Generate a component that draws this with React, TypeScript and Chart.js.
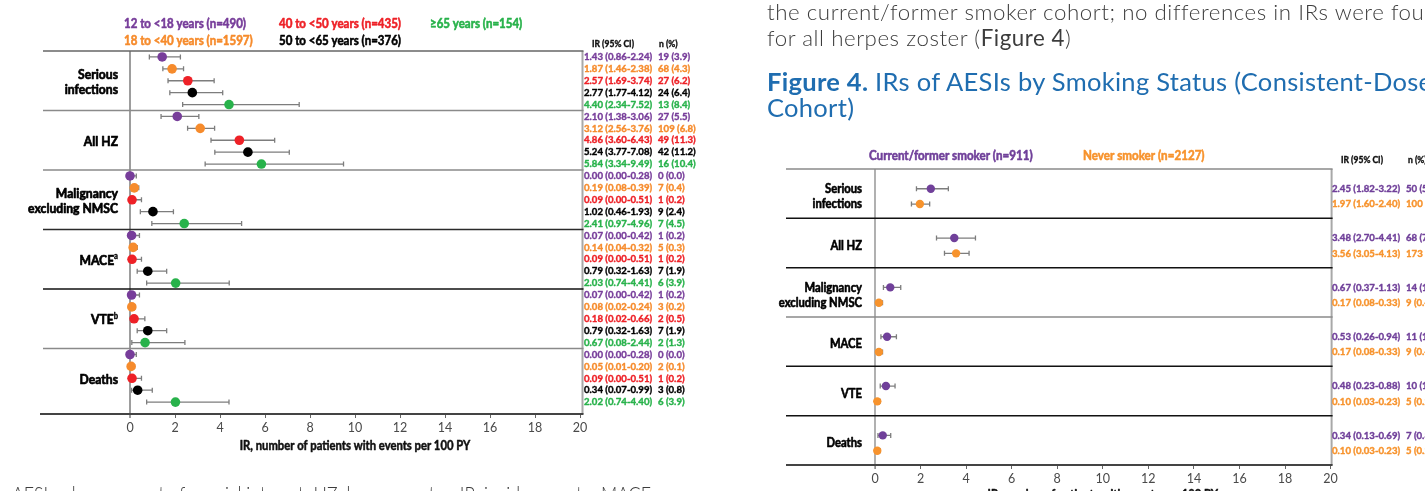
import React, { useEffect, useRef } from 'react';
import { Chart, registerables } from 'chart.js';
Chart.register(...registerables);

const FONT = 'Lato, "Noto Sans", sans-serif';

// ---------- Left chart (by age group) ----------
const leftCategoryLines = [['Serious', 'infections'], ['All HZ'], ['Malignancy', 'excluding NMSC'], ['MACE'], ['VTE'], ['Deaths']];
const leftCategorySup = ['', '', '', 'a', 'b', ''];

const ageLabels = ['12 to <18 years (n=490)', '18 to <40 years (n=1597)', '40 to <50 years (n=435)', '50 to <65 years (n=376)', '≥65 years (n=154)'];
const ageColors = ['#773d9a', '#f68b2c', '#ee2127', '#000000', '#28b24b'];

const age12IR = [1.43, 2.10, 0.00, 0.07, 0.07, 0.00];
const age12Lo = [0.86, 1.38, 0.00, 0.00, 0.00, 0.00];
const age12Hi = [2.24, 3.06, 0.28, 0.42, 0.42, 0.28];
const age12N = ['19 (3.9)', '27 (5.5)', '0 (0.0)', '1 (0.2)', '1 (0.2)', '0 (0.0)'];

const age18IR = [1.87, 3.12, 0.19, 0.14, 0.08, 0.05];
const age18Lo = [1.46, 2.56, 0.08, 0.04, 0.02, 0.01];
const age18Hi = [2.38, 3.76, 0.39, 0.32, 0.24, 0.20];
const age18N = ['68 (4.3)', '109 (6.8)', '7 (0.4)', '5 (0.3)', '3 (0.2)', '2 (0.1)'];

const age40IR = [2.57, 4.86, 0.09, 0.09, 0.18, 0.09];
const age40Lo = [1.69, 3.60, 0.00, 0.00, 0.02, 0.00];
const age40Hi = [3.74, 6.43, 0.51, 0.51, 0.66, 0.51];
const age40N = ['27 (6.2)', '49 (11.3)', '1 (0.2)', '1 (0.2)', '2 (0.5)', '1 (0.2)'];

const age50IR = [2.77, 5.24, 1.02, 0.79, 0.79, 0.34];
const age50Lo = [1.77, 3.77, 0.46, 0.32, 0.32, 0.07];
const age50Hi = [4.12, 7.08, 1.93, 1.63, 1.63, 0.99];
const age50N = ['24 (6.4)', '42 (11.2)', '9 (2.4)', '7 (1.9)', '7 (1.9)', '3 (0.8)'];

const age65IR = [4.40, 5.84, 2.41, 2.03, 0.67, 2.02];
const age65Lo = [2.34, 3.34, 0.97, 0.74, 0.08, 0.74];
const age65Hi = [7.52, 9.49, 4.96, 4.41, 2.44, 4.40];
const age65N = ['13 (8.4)', '16 (10.4)', '7 (4.5)', '6 (3.9)', '2 (1.3)', '6 (3.9)'];

// ---------- Right chart (by smoking status) ----------
const rightCategoryLines = [['Serious', 'infections'], ['All HZ'], ['Malignancy', 'excluding NMSC'], ['MACE'], ['VTE'], ['Deaths']];
const smokeLabels = ['Current/former smoker (n=911)', 'Never smoker (n=2127)'];
const smokeColors = ['#70409a', '#f7932d'];

const currentIR = [2.45, 3.48, 0.67, 0.53, 0.48, 0.34];
const currentLo = [1.82, 2.70, 0.37, 0.26, 0.23, 0.13];
const currentHi = [3.22, 4.41, 1.13, 0.94, 0.88, 0.69];
const currentN = ['50 (5.5)', '68 (7.5)', '14 (1.5)', '11 (1.2)', '10 (1.1)', '7 (0.8)'];

const neverIR = [1.97, 3.56, 0.17, 0.17, 0.10, 0.10];
const neverLo = [1.60, 3.05, 0.08, 0.08, 0.03, 0.03];
const neverHi = [2.40, 4.13, 0.33, 0.33, 0.23, 0.23];
const neverN = ['100 (4.7)', '173 (8.1)', '9 (0.4)', '9 (0.4)', '5 (0.2)', '5 (0.2)'];

const xTicks = [0, 2, 4, 6, 8, 10, 12, 14, 16, 18, 20];
const xTitle = 'IR, number of patients with events per 100 PY';

type Series = { label: string; color: string; ir: number[]; lo: number[]; hi: number[]; n: string[] };

const ageSeries: Series[] = [
  { label: ageLabels[0], color: ageColors[0], ir: age12IR, lo: age12Lo, hi: age12Hi, n: age12N },
  { label: ageLabels[1], color: ageColors[1], ir: age18IR, lo: age18Lo, hi: age18Hi, n: age18N },
  { label: ageLabels[2], color: ageColors[2], ir: age40IR, lo: age40Lo, hi: age40Hi, n: age40N },
  { label: ageLabels[3], color: ageColors[3], ir: age50IR, lo: age50Lo, hi: age50Hi, n: age50N },
  { label: ageLabels[4], color: ageColors[4], ir: age65IR, lo: age65Lo, hi: age65Hi, n: age65N },
];
const smokeSeries: Series[] = [
  { label: smokeLabels[0], color: smokeColors[0], ir: currentIR, lo: currentLo, hi: currentHi, n: currentN },
  { label: smokeLabels[1], color: smokeColors[1], ir: neverIR, lo: neverLo, hi: neverHi, n: neverN },
];

function txt(ctx: CanvasRenderingContext2D, s: string, x: number, y: number, font: string, color: string, align = 'left', sx = 0.9, stroke = 0.55) {
  ctx.save();
  ctx.font = font;
  ctx.fillStyle = color;
  ctx.strokeStyle = color;
  ctx.textBaseline = 'middle';
  const w = ctx.measureText(s).width * sx;
  const x0 = align === 'left' ? x : align === 'right' ? x - w : x - w / 2;
  ctx.translate(x0, y);
  ctx.scale(sx, 1);
  ctx.textAlign = 'left';
  ctx.fillText(s, 0, 0);
  if (stroke > 0) {
    ctx.lineWidth = stroke;
    ctx.lineJoin = 'round';
    ctx.strokeText(s, 0, 0);
  }
  ctx.restore();
  return w;
}
function hline(ctx: CanvasRenderingContext2D, x1: number, x2: number, y: number, c: string, w: number) {
  ctx.beginPath(); ctx.strokeStyle = c; ctx.lineWidth = w; ctx.moveTo(x1, y); ctx.lineTo(x2, y); ctx.stroke();
}
function vline(ctx: CanvasRenderingContext2D, x: number, y1: number, y2: number, c: string, w: number) {
  ctx.beginPath(); ctx.strokeStyle = c; ctx.lineWidth = w; ctx.moveTo(x, y1); ctx.lineTo(x, y2); ctx.stroke();
}
function fmt(ir: number, lo: number, hi: number) {
  return `${ir.toFixed(2)} (${lo.toFixed(2)}-${hi.toFixed(2)})`;
}

function buildDatasets(series: Series[], rowOf: (g: number, s: number) => number, radius: number) {
  return series.map((s, si) => ({
    label: s.label,
    data: s.ir.map((v, g) => ({ x: v, y: rowOf(g, si) })),
    errLo: s.lo,
    errHi: s.hi,
    nText: s.n,
    backgroundColor: s.color,
    borderColor: s.color,
    pointRadius: radius,
    pointHoverRadius: radius,
    pointBorderWidth: 0,
    showLine: false,
    clip: false as any,
  }));
}

const errorBars = {
  id: 'errorBars',
  beforeDatasetsDraw(chart: any) {
    const { ctx, scales: { x, y } } = chart;
    ctx.save();
    chart.data.datasets.forEach((ds: any) => {
      ds.data.forEach((p: any, i: number) => {
        const x1 = x.getPixelForValue(ds.errLo[i]);
        const x2 = x.getPixelForValue(ds.errHi[i]);
        const py = y.getPixelForValue(p.y);
        ctx.beginPath();
        ctx.strokeStyle = '#7d7d7d';
        ctx.lineWidth = 1.3;
        ctx.moveTo(x1, py); ctx.lineTo(x2, py);
        ctx.moveTo(x1, py - 2.5); ctx.lineTo(x1, py + 2.5);
        ctx.moveTo(x2, py - 2.5); ctx.lineTo(x2, py + 2.5);
        ctx.stroke();
      });
    });
    ctx.restore();
  },
};

function xScale(tickFont: number, axisHeight: number) {
  return {
    type: 'linear' as const,
    min: 0,
    max: 20,
    afterBuildTicks: (s: any) => { s.ticks = xTicks.map((v) => ({ value: v })); },
    afterFit: (s: any) => { s.height = axisHeight; },
    ticks: { color: '#4a4a4a', font: { family: FONT, size: tickFont }, padding: 2, maxRotation: 0, autoSkip: false },
    grid: { drawOnChartArea: false, drawTicks: true, tickLength: 4, color: '#666', lineWidth: 1 },
    border: { display: false },
  };
}

const BOLD = (s: number) => `bold ${s}px ${FONT}`;

const leftDecor = {
  id: 'leftDecor',
  beforeDatasetsDraw(chart: any) {
    const { ctx, chartArea: ca, scales: { x, y } } = chart;
    ctx.save();
    vline(ctx, ca.right + 2.5, ca.top, ca.bottom, '#a8a8a8', 2);
    vline(ctx, x.getPixelForValue(0), ca.top, ca.bottom + 4, '#9d9d9d', 2);
    const sepColors = ['#666', '#8a8a8a', '#8a8a8a', '#2a2a2a', '#111', '#8a8a8a'];
    sepColors.forEach((c, g) => hline(ctx, 43, ca.right + 3.5, y.getPixelForValue(g * 5), c, 1.6));
    hline(ctx, 40, ca.right + 3.5, ca.bottom, '#444', 2);
    ctx.restore();
  },
  afterDraw(chart: any) {
    const { ctx, chartArea: ca, scales: { y } } = chart;
    const slots = [[124, 24], [124, 41], [279, 24], [279, 41], [430, 24]];
    ageSeries.forEach((s, i) => txt(ctx, s.label, slots[i][0], slots[i][1], BOLD(12.5), s.color, 'left', 0.92));
    txt(ctx, 'IR (95% CI)', 592, 44, BOLD(9.5), '#111', 'left', 0.9, 0.4);
    txt(ctx, 'n (%)', 659, 44, BOLD(9.5), '#111', 'left', 0.9, 0.4);
    leftCategoryLines.forEach((lines, g) => {
      const cy = y.getPixelForValue(g * 5 + 2.5) + 1;
      lines.forEach((ln, k) => {
        const ly = cy + (k - (lines.length - 1) / 2) * 15;
        let xr = 118;
        const sup = leftCategorySup[g];
        if (sup && k === lines.length - 1) {
          const w = txt(ctx, sup, xr, ly - 4, BOLD(8.5), '#000', 'right', 0.9, 0.4);
          xr -= w;
        }
        txt(ctx, ln, xr, ly, BOLD(13.5), '#000', 'right', 0.9, 0.7);
      });
    });
    chart.data.datasets.forEach((ds: any, si: number) => {
      ds.data.forEach((p: any, i: number) => {
        const py = y.getPixelForValue(p.y);
        txt(ctx, fmt(p.x, ds.errLo[i], ds.errHi[i]), 584, py, BOLD(10), ageSeries[si].color, 'left', 0.96, 0.4);
        txt(ctx, ds.nText[i], 658, py, BOLD(10), ageSeries[si].color, 'left', 0.96, 0.4);
      });
    });
    txt(ctx, xTitle, (ca.left + ca.right) / 2, 446, BOLD(12.5), '#111', 'center', 0.9, 0.5);
  },
};

const rightDecor = {
  id: 'rightDecor',
  beforeDatasetsDraw(chart: any) {
    const { ctx, chartArea: ca, scales: { x, y } } = chart;
    ctx.save();
    vline(ctx, ca.right + 1, ca.top, ca.bottom, '#a8a8a8', 2);
    vline(ctx, x.getPixelForValue(0), ca.top, ca.bottom + 4, '#9d9d9d', 1.6);
    const sepColors = ['#8a8a8a', '#111', '#111', '#8a8a8a', '#111', '#111'];
    sepColors.forEach((c, g) => hline(ctx, 66, ca.right + 2, y.getPixelForValue(g), c, 1.5));
    hline(ctx, 66, ca.right + 2, ca.bottom, '#444', 2);
    ctx.restore();
  },
  afterDraw(chart: any) {
    const { ctx, chartArea: ca, scales: { y } } = chart;
    txt(ctx, smokeSeries[0].label, 149, 156, BOLD(12.5), smokeSeries[0].color, 'left', 0.93);
    txt(ctx, smokeSeries[1].label, 363, 156, BOLD(12.5), smokeSeries[1].color, 'left', 0.93);
    txt(ctx, 'IR (95% CI)', 621, 160, BOLD(9.5), '#111', 'left', 0.9, 0.4);
    txt(ctx, 'n (%)', 688, 160, BOLD(9.5), '#111', 'left', 0.9, 0.4);
    rightCategoryLines.forEach((lines, g) => {
      const cy = y.getPixelForValue(g + 0.555);
      lines.forEach((ln, k) => {
        const ly = cy + (k - (lines.length - 1) / 2) * 15;
        txt(ctx, ln, 142, ly, BOLD(12.5), '#000', 'right', 0.9, 0.6);
      });
    });
    chart.data.datasets.forEach((ds: any, si: number) => {
      ds.data.forEach((p: any, i: number) => {
        const py = y.getPixelForValue(p.y);
        txt(ctx, fmt(p.x, ds.errLo[i], ds.errHi[i]), 612, py, BOLD(10), smokeSeries[si].color, 'left', 0.96, 0.4);
        txt(ctx, ds.nText[i], 686, py, BOLD(10), smokeSeries[si].color, 'left', 0.96, 0.4);
      });
    });
    txt(ctx, xTitle, (ca.left + ca.right) / 2, 495, BOLD(12.5), '#111', 'center', 0.9, 0.5);
  },
};

function baseOptions(pad: any, ymax: number, tickFont: number, axisH: number) {
  return {
    responsive: false,
    animation: false as const,
    events: [] as any,
    layout: { padding: pad },
    plugins: { legend: { display: false }, tooltip: { enabled: false } },
    scales: {
      x: xScale(tickFont, axisH),
      y: { type: 'linear' as const, min: 0, max: ymax, reverse: true, display: false },
    },
  };
}

export default function App() {
  const lref = useRef<HTMLCanvasElement>(null);
  const rref = useRef<HTMLCanvasElement>(null);
  useEffect(() => {
    const c1 = new Chart(lref.current!, {
      type: 'scatter',
      data: { datasets: buildDatasets(ageSeries, (g, s) => g * 5 + s + 0.5, 4.8) as any },
      options: baseOptions({ left: 130, right: 140, top: 51, bottom: 47 }, 30.5, 12.5, 30) as any,
      plugins: [leftDecor, errorBars],
    });
    const c2 = new Chart(rref.current!, {
      type: 'scatter',
      data: { datasets: buildDatasets(smokeSeries, (g, s) => g + (s === 0 ? 0.4 : 0.71), 4.2) as any },
      options: baseOptions({ left: 155, right: 94.4, top: 169, bottom: 6 }, 6, 12.5, 20) as any,
      plugins: [rightDecor, errorBars],
    });
    return () => { c1.destroy(); c2.destroy(); };
  }, []);

  const para: React.CSSProperties = { position: 'absolute', left: 767, whiteSpace: 'nowrap', fontFamily: FONT, fontSize: 22.3, lineHeight: '26px', color: '#3c3c3c', fontWeight: 300, letterSpacing: '0.55px' };
  const title: React.CSSProperties = { position: 'absolute', left: 767, whiteSpace: 'nowrap', fontFamily: FONT, fontSize: 25.5, lineHeight: '26px', color: '#1f6db0', letterSpacing: '0.3px' };

  return (
    <div style={{ position: 'fixed', left: 0, top: 0, width: 1425, height: 491, overflow: 'hidden', background: '#fff' }}>
      <canvas ref={lref} width={720} height={491} style={{ position: 'absolute', left: 0, top: 0, width: 720, height: 491 }} />
      <canvas ref={rref} width={705} height={491} style={{ position: 'absolute', left: 720, top: 0, width: 705, height: 491 }} />
      <div style={{ ...para, top: -1 }}>the current/former smoker cohort; no differences in IRs were found</div>
      <div style={{ ...para, top: 25 }}>for all herpes zoster (<b>Figure 4</b>)</div>
      <div style={{ ...title, top: 68 }}><b>Figure 4.</b> IRs of AESIs by Smoking Status (Consistent-Dose</div>
      <div style={{ ...title, top: 94 }}>Cohort)</div>
      <div style={{ position: 'absolute', left: 12, top: 481, width: 690, height: 30, overflow: 'hidden' }}>
        <span style={{ ...para, position: 'absolute', left: 0, top: 0, letterSpacing: '0px', fontSize: 21, display: 'inline-block', transform: 'scaleX(0.85)', transformOrigin: 'left top' }}>
          AESI, adverse event of special interest; HZ, herpes zoster; IR, incidence rate; MACE,
        </span>
      </div>
    </div>
  );
}
